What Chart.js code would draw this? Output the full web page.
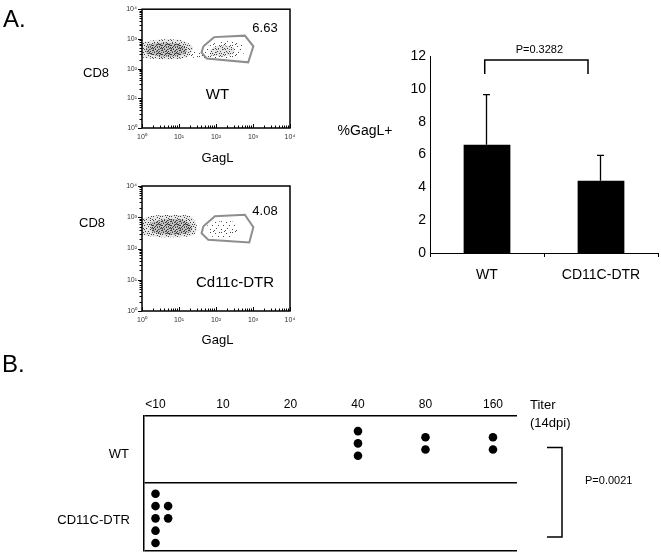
<!DOCTYPE html>
<html><head><meta charset="utf-8">
<script src="https://cdn.jsdelivr.net/npm/chart.js@4.4.1/dist/chart.umd.min.js"></script>
<style>
html,body{margin:0;padding:0;background:#fff;}
#wrap{position:relative;width:661px;height:555px;overflow:hidden;background:#fff;}
#wrap canvas{position:absolute;left:0;top:0;}
</style></head><body>
<div id="wrap">
<canvas id="flow1" width="661" height="555"></canvas>
<canvas id="flow2" width="661" height="555"></canvas>
<canvas id="bar" width="661" height="555"></canvas>
<canvas id="titer" width="661" height="555"></canvas>
</div>
<script>
// ================= DATA =================
// Flow cytometry plots (values in log10 units of GagL / CD8)
const flowExponents = [0, 1, 2, 3, 4];
const flowTickLabels = ['10\u2070', '10\u00b9', '10\u00b2', '10\u00b3', '10\u2074'];
const flowSamples = ['WT', 'Cd11c-DTR'];
const flowGatePercents = [6.63, 4.08];
const wtGateX = [1.66, 1.95, 2.78, 3.01, 2.87, 1.75, 1.61];
const wtGateY = [2.75, 3.06, 3.11, 2.75, 2.21, 2.34, 2.54];
const dtrGateX = [1.66, 1.97, 2.78, 3.01, 2.90, 1.79, 1.61];
const dtrGateY = [2.71, 3.03, 3.08, 2.68, 2.19, 2.28, 2.49];
// outlines of the cell populations
const wtMainX = [0, 0.22, 0.62, 1.03, 1.24, 1.38, 1.30, 1.08, 0.62, 0.22, 0];
const wtMainY = [2.86, 2.94, 2.99, 2.96, 2.86, 2.70, 2.47, 2.34, 2.31, 2.34, 2.37];
const wtCoreX = [0.11, 0.43, 0.89, 1.16, 1.19, 0.92, 0.49, 0.11];
const wtCoreY = [2.76, 2.86, 2.85, 2.73, 2.54, 2.42, 2.42, 2.50];
const wtTrailX = [1.30, 1.65, 1.70, 1.30];
const wtTrailY = [2.60, 2.54, 2.34, 2.37];
const wtGatedX = [1.70, 1.97, 2.43, 2.70, 2.76, 2.54, 1.97, 1.70];
const wtGatedY = [2.70, 2.86, 2.93, 2.80, 2.54, 2.37, 2.34, 2.41];
const wtGatedCoreX = [1.84, 2.05, 2.43, 2.49, 2.24, 1.84];
const wtGatedCoreY = [2.63, 2.76, 2.73, 2.54, 2.41, 2.44];
const dtrMainX = [0, 0.35, 0.89, 1.30, 1.46, 1.46, 1.30, 0.62, 0.22, 0];
const dtrMainY = [2.96, 3.06, 3.07, 3.03, 2.83, 2.52, 2.39, 2.36, 2.39, 2.45];
const dtrCoreX = [0.22, 0.62, 1.16, 1.35, 1.30, 0.76, 0.27];
const dtrCoreY = [2.83, 2.93, 2.90, 2.71, 2.52, 2.45, 2.52];
const dtrGatedX = [1.76, 2.11, 2.51, 2.59, 2.38, 1.84];
const dtrGatedY = [2.77, 2.87, 2.83, 2.58, 2.32, 2.39];

// Bar chart
const barCategories = ['WT', 'CD11C-DTR'];
const barMeans = [6.6, 4.4];
const barErrors = [3.05, 1.55];
const barTicks = [0, 2, 4, 6, 8, 10, 12];
const barYLabel = '%GagL+';
const barPLabel = 'P=0.3282';

// Titer dot plot
const titerLabels = ['<10', '10', '20', '40', '80', '160'];
const titerGroups = ['CD11C-DTR', 'WT'];
const dtrTiters = ['<10', '<10', '<10', '<10', '<10', '<10', '<10'];
const wtTiters = ['40', '40', '40', '80', '80', '160', '160'];
const titerPLabel = 'P=0.0021';

// ================= RENDERING =================
const FONT = '"Liberation Sans", Arial, Helvetica, sans-serif';
Chart.defaults.font.family = FONT;
Chart.defaults.color = '#000';
const W = 661, H = 555;

function baseOptions() {
  return {responsive: false, animation: false, devicePixelRatio: 1, events: [],
    plugins: {legend: {display: false}, tooltip: {enabled: false}}};
}
function textPlugin(getItems) {
  return {id: 'texts', afterDraw(chart) {
    const ctx = chart.ctx;
    getItems(chart).forEach(t => {
      ctx.save();
      ctx.font = (t.weight || 'normal') + ' ' + t.size + 'px ' + FONT;
      ctx.fillStyle = t.color || '#000';
      ctx.textAlign = t.align || 'center';
      ctx.textBaseline = 'alphabetic';
      ctx.fillText(t.text, t.x, t.y);
      ctx.restore();
    });
  }};
}

// stipple tiles (style only)
function tile(size, dots, color, bg) {
  const c = document.createElement('canvas'); c.width = size; c.height = size;
  const g = c.getContext('2d');
  if (bg) { g.fillStyle = bg; g.fillRect(0, 0, size, size); }
  g.fillStyle = color;
  dots.forEach(d => g.fillRect(d[0], d[1], 1, 1));
  return c;
}
const DENSE = tile(9, [[0,0],[3,0],[6,1],[8,0],[1,2],[4,2],[7,3],[2,4],[5,4],[0,5],[8,5],[3,6],[6,6],
  [1,7],[4,8],[7,8],[2,1],[5,7],[0,3],[8,2],[4,5],[6,8]], '#3a3a3a', 'rgba(170,170,170,0.55)');
const MEDIUM = tile(9, [[0,0],[4,1],[7,0],[2,3],[6,4],[1,6],[4,6],[8,7],[3,8],[6,2],[0,4],[5,8],[8,3]],
  '#404040', 'rgba(200,200,200,0.45)');
const SPARSE = tile(11, [[1,1],[6,2],[9,5],[3,5],[7,8],[1,9],[5,10],[10,1],[4,0]], '#4a4a4a', null);

function poly(xs, ys, close) {
  const p = xs.map((x, i) => ({x: x, y: ys[i]}));
  if (close) p.push({x: xs[0], y: ys[0]});
  return p;
}
function cloudDs(xs, ys, t) {
  return {data: poly(xs, ys, false), showLine: true, tension: 0.35, borderColor: 'rgba(0,0,0,0)',
    borderWidth: 0, pointRadius: 0, fill: false, tile: t};
}
function gateDs(xs, ys) {
  return {data: poly(xs, ys, true), showLine: true, tension: 0, borderColor: '#8e8e8e',
    borderWidth: 2, pointRadius: 0, fill: false};
}

const cloudPlugin = {id: 'cloudFill', beforeDatasetsDraw(chart) {
  const ctx = chart.ctx, a = chart.chartArea;
  chart.data.datasets.forEach((ds, i) => {
    if (!ds.tile) return;
    const line = chart.getDatasetMeta(i).dataset;
    if (!line) return;
    line.updateControlPoints(a, 'x');
    ctx.save();
    ctx.beginPath(); ctx.rect(a.left, a.top, a.right - a.left, a.bottom - a.top); ctx.clip();
    ctx.beginPath(); line.path(ctx); ctx.closePath();
    ctx.fillStyle = ctx.createPattern(ds.tile, 'repeat');
    ctx.fill();
    ctx.restore();
  });
}};

const flowFramePlugin = {id: 'flowFrame', afterDraw(chart) {
  const ctx = chart.ctx, a = chart.chartArea, x = chart.scales.x, y = chart.scales.y;
  ctx.save();
  ctx.strokeStyle = '#000';
  ctx.lineWidth = 1.5;
  ctx.strokeRect(a.left, a.top, a.right - a.left, a.bottom - a.top);
  ctx.lineWidth = 1;
  for (let d = 0; d < flowExponents.length; d++) {
    for (let k = 1; k <= 9; k++) {
      if (d === flowExponents.length - 1 && k > 1) break;
      const v = flowExponents[d] + Math.log10(k);
      const len = k === 1 ? 4 : 2.5;
      const py = Math.round(y.getPixelForValue(v)) + 0.5;
      ctx.beginPath(); ctx.moveTo(a.left, py); ctx.lineTo(a.left - len, py); ctx.stroke();
      const px = Math.round(x.getPixelForValue(v)) + 0.5;
      ctx.beginPath(); ctx.moveTo(px, a.bottom); ctx.lineTo(px, a.bottom - len); ctx.stroke();
    }
  }
  ctx.restore();
}};

function flowChart(id, area, datasets, texts) {
  const YW = 30, XH = 20;
  const opts = baseOptions();
  opts.layout = {padding: {left: area.left - YW, right: W - area.right, top: area.top, bottom: H - area.bottom - XH}};
  const axis = (size) => ({
    type: 'linear', min: flowExponents[0], max: flowExponents[flowExponents.length - 1],
    afterBuildTicks: s => { s.ticks = flowExponents.map(v => ({value: v})); },
    ticks: {callback: (v, i) => flowTickLabels[i], font: {size: 7}, color: '#333', padding: 5,
      maxRotation: 0, autoSkip: false},
    grid: {display: false, drawTicks: false}, border: {display: false},
    afterFit: size
  });
  opts.scales = {x: axis(s => { s.height = XH; }), y: axis(s => { s.width = YW; })};
  return new Chart(document.getElementById(id), {
    type: 'scatter', data: {datasets: datasets}, options: opts,
    plugins: [cloudPlugin, flowFramePlugin, textPlugin(() => texts)]
  });
}

flowChart('flow1', {left: 142, right: 290, top: 5, bottom: 128}, [
  cloudDs(wtMainX, wtMainY, MEDIUM), cloudDs(wtCoreX, wtCoreY, DENSE), cloudDs(wtTrailX, wtTrailY, SPARSE),
  cloudDs(wtGatedX, wtGatedY, SPARSE), cloudDs(wtGatedCoreX, wtGatedCoreY, MEDIUM),
  gateDs(wtGateX, wtGateY)
], [
  {text: 'A.', x: 3, y: 27, size: 24, align: 'left'},
  {text: 'CD8', x: 96, y: 77, size: 13},
  {text: 'GagL', x: 217.5, y: 162, size: 13},
  {text: flowGatePercents[0].toFixed(2), x: 265, y: 32, size: 13},
  {text: flowSamples[0], x: 217.5, y: 99, size: 15}
]);

flowChart('flow2', {left: 142, right: 290, top: 186, bottom: 311}, [
  cloudDs(dtrMainX, dtrMainY, MEDIUM), cloudDs(dtrCoreX, dtrCoreY, DENSE),
  cloudDs(dtrGatedX, dtrGatedY, SPARSE),
  gateDs(dtrGateX, dtrGateY)
], [
  {text: 'CD8', x: 92, y: 227, size: 13},
  {text: 'GagL', x: 217.5, y: 344, size: 13},
  {text: flowGatePercents[1].toFixed(2), x: 265, y: 215, size: 13},
  {text: flowSamples[1], x: 235, y: 287, size: 15}
]);

// ---- Bar chart ----
(function () {
  const area = {left: 430, right: 658, top: 56, bottom: 253};
  const YW = 40, XH = 30;
  const opts = baseOptions();
  opts.layout = {padding: {left: area.left - YW, right: W - area.right, top: area.top, bottom: H - area.bottom - XH}};
  opts.scales = {
    x: {grid: {display: true, drawOnChartArea: false, drawTicks: true, tickLength: 4, color: '#000', offset: true},
        border: {display: true, color: '#000', width: 1},
        ticks: {font: {size: 14}, color: '#000', padding: 10, maxRotation: 0},
        afterFit: s => { s.height = XH; }},
    y: {min: 0, max: 12,
        afterBuildTicks: s => { s.ticks = barTicks.map(v => ({value: v})); },
        grid: {display: false, drawTicks: false},
        border: {display: true, color: '#000', width: 1},
        ticks: {font: {size: 14}, color: '#000', padding: 4},
        afterFit: s => { s.width = YW; }}
  };
  const extras = {id: 'barExtras', afterDatasetsDraw(chart) {
    const ctx = chart.ctx, x = chart.scales.x, y = chart.scales.y;
    ctx.save(); ctx.strokeStyle = '#000'; ctx.lineWidth = 1.3;
    barMeans.forEach((m, i) => {
      const cx = x.getPixelForValue(i) - 0.5;
      const y0 = y.getPixelForValue(m), y1 = y.getPixelForValue(m + barErrors[i]);
      ctx.beginPath(); ctx.moveTo(cx, y0); ctx.lineTo(cx, y1);
      ctx.moveTo(cx - 3.5, y1); ctx.lineTo(cx + 3.5, y1); ctx.stroke();
    });
    const yb = y.getPixelForValue(10.9), yt = y.getPixelForValue(11.76);
    const xl = x.getPixelForValue(-0.02), xr = x.getPixelForValue(0.886);
    ctx.lineWidth = 1.5;
    ctx.beginPath(); ctx.moveTo(xl, yb); ctx.lineTo(xl, yt); ctx.lineTo(xr, yt); ctx.lineTo(xr, yb); ctx.stroke();
    ctx.fillStyle = '#000'; ctx.font = '11px ' + FONT; ctx.textAlign = 'center'; ctx.textBaseline = 'alphabetic';
    ctx.fillText(barPLabel, (xl + xr) / 2 + 3, yt - 7);
    ctx.restore();
  }};
  new Chart(document.getElementById('bar'), {
    type: 'bar',
    data: {labels: barCategories, datasets: [{data: barMeans, backgroundColor: '#000', borderWidth: 0,
      categoryPercentage: 1, barPercentage: 0.41}]},
    options: opts,
    plugins: [extras, textPlugin(() => [{text: barYLabel, x: 365, y: 135, size: 14}])]
  });
})();

// ---- Titer dot plot ----
(function () {
  const area = {left: 143.5, right: 517, top: 415.5, bottom: 553};
  const YW = 10, XH = 20;
  const X_MIN = -0.178, X_MAX = 5.356;
  const PX_PER_X = (area.right - area.left) / (X_MAX - X_MIN);
  const PX_PER_Y = (area.bottom - area.top) / 2;
  const DOT_STEP = 12.5, COL_STEP = 12.6 / PX_PER_X, MAX_COL = 5;
  function dotPoints(titers, row, shiftPx) {
    const counts = {};
    titers.forEach(t => { counts[t] = (counts[t] || 0) + 1; });
    const pts = [];
    Object.keys(counts).forEach(t => {
      const c = titerLabels.indexOf(t), n = counts[t];
      const first = Math.min(n, MAX_COL);
      const slotY = s => row + 0.5 - (shiftPx + (s - (first - 1) / 2) * DOT_STEP) / PX_PER_Y;
      for (let s = 0; s < first; s++) pts.push({x: c, y: slotY(s)});
      for (let j = 0; j < n - first; j++) pts.push({x: c + COL_STEP, y: slotY(j + 1)});
    });
    return pts;
  }
  const opts = baseOptions();
  opts.layout = {padding: {left: area.left - YW, right: W - area.right, top: area.top - XH, bottom: H - area.bottom}};
  opts.scales = {
    x: {type: 'linear', position: 'top', min: X_MIN, max: X_MAX,
        afterBuildTicks: s => { s.ticks = titerLabels.map((l, i) => ({value: i})); },
        ticks: {callback: (v, i) => titerLabels[i], font: {size: 12}, color: '#000', padding: 4, maxRotation: 0, autoSkip: false},
        grid: {display: false, drawTicks: false}, border: {display: false},
        afterFit: s => { s.height = XH; }},
    y: {type: 'linear', min: 0, max: titerGroups.length,
        afterBuildTicks: s => { s.ticks = [0, 1, 2].map(v => ({value: v})); },
        ticks: {display: false},
        grid: {display: true, drawTicks: false, color: '#000', lineWidth: 1.5},
        border: {display: true, color: '#000', width: 1.5},
        afterFit: s => { s.width = YW; }}
  };
  const bracket = {id: 'bracketB', afterDraw(chart) {
    const ctx = chart.ctx;
    ctx.save(); ctx.strokeStyle = '#000'; ctx.lineWidth = 1.5;
    ctx.beginPath(); ctx.moveTo(547, 447.5); ctx.lineTo(562, 447.5); ctx.lineTo(562, 537); ctx.lineTo(547, 537); ctx.stroke();
    ctx.restore();
  }};
  new Chart(document.getElementById('titer'), {
    type: 'scatter',
    data: {datasets: [
      {data: dotPoints(dtrTiters, 0, 1.5), pointRadius: 4.3, pointBackgroundColor: '#000', pointBorderWidth: 0, clip: false},
      {data: dotPoints(wtTiters, 1, -6), pointRadius: 4.3, pointBackgroundColor: '#000', pointBorderWidth: 0, clip: false}
    ]},
    options: opts,
    plugins: [bracket, textPlugin(chart => {
      const y = chart.scales.y;
      return [
        {text: 'B.', x: 2, y: 372, size: 24, align: 'left'},
        {text: 'Titer', x: 530, y: 409, size: 13, align: 'left'},
        {text: '(14dpi)', x: 530, y: 427, size: 13, align: 'left'},
        {text: titerPLabel, x: 585, y: 484, size: 11, align: 'left'},
        {text: titerGroups[1], x: 129, y: y.getPixelForValue(1.5) + 9, size: 13, align: 'right'},
        {text: titerGroups[0], x: 130, y: y.getPixelForValue(0.5) + 7.5, size: 13, align: 'right'}
      ];
    })]
  });
})();
</script>
</body></html>
